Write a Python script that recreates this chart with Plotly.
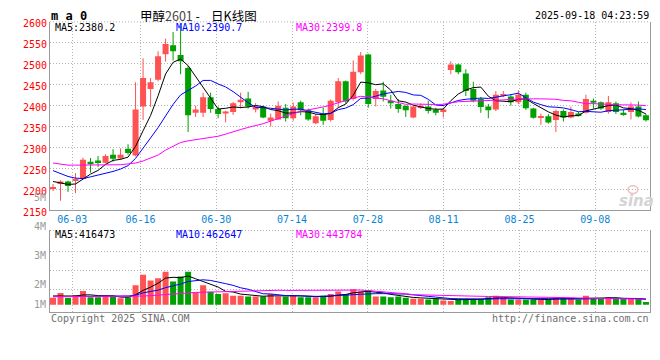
import plotly.graph_objects as go

# ---------------- data ----------------
dates = ["05-28", "05-29", "05-30",
         "06-03", "06-04", "06-05", "06-06", "06-09", "06-10", "06-11", "06-12", "06-13",
         "06-16", "06-17", "06-18", "06-19", "06-20", "06-23", "06-24", "06-25", "06-26", "06-27", "06-30",
         "07-01", "07-02", "07-03", "07-04", "07-07", "07-08", "07-09", "07-10", "07-11", "07-14",
         "07-15", "07-16", "07-17", "07-18", "07-21", "07-22", "07-23", "07-24", "07-25", "07-28",
         "07-29", "07-30", "07-31",
         "08-01", "08-04", "08-05", "08-06", "08-07", "08-08", "08-11", "08-12", "08-13", "08-14",
         "08-15", "08-18", "08-19", "08-20", "08-21", "08-22", "08-25", "08-26", "08-27", "08-28", "08-29",
         "09-01", "09-02", "09-03", "09-04", "09-05", "09-08", "09-09", "09-10", "09-11", "09-12",
         "09-15", "09-16", "09-17"]

opens = [2203, 2215, 2219, 2220, 2225, 2266, 2269, 2264, 2283, 2274,
         2297, 2281, 2398, 2440, 2462, 2523, 2544, 2521, 2490, 2383,
         2383, 2420, 2392, 2381, 2385, 2408, 2417, 2391, 2398, 2364,
         2367, 2395, 2370, 2408, 2389, 2358, 2380, 2366, 2408, 2458,
         2416, 2480, 2522, 2416, 2436, 2412, 2404, 2400, 2372, 2397,
         2398, 2390, 2385, 2485, 2498, 2477, 2440, 2416, 2398, 2391,
         2425, 2422, 2408, 2426, 2393, 2372, 2375, 2366, 2387, 2372,
         2381, 2383, 2412, 2408, 2385, 2406, 2383, 2385, 2398, 2377]
highs = [2213, 2222, 2221, 2239, 2276, 2275, 2280, 2284, 2296, 2298,
         2308, 2456, 2513, 2466, 2530, 2560, 2576, 2590, 2495, 2400,
         2431, 2431, 2398, 2388, 2409, 2431, 2433, 2406, 2400, 2381,
         2410, 2404, 2408, 2412, 2393, 2380, 2395, 2415, 2466, 2460,
         2508, 2528, 2524, 2440, 2457, 2426, 2416, 2400, 2400, 2405,
         2412, 2395, 2395, 2506, 2500, 2487, 2457, 2421, 2404, 2435,
         2435, 2426, 2437, 2431, 2395, 2381, 2380, 2391, 2391, 2398,
         2385, 2426, 2417, 2410, 2423, 2410, 2390, 2408, 2410, 2380]
lows = [2196, 2173, 2194, 2191, 2224, 2240, 2254, 2262, 2266, 2271,
        2283, 2279, 2366, 2397, 2458, 2505, 2508, 2475, 2337, 2373,
        2373, 2383, 2370, 2360, 2378, 2393, 2393, 2384, 2370, 2350,
        2366, 2362, 2364, 2377, 2364, 2356, 2354, 2362, 2397, 2405,
        2412, 2475, 2395, 2398, 2410, 2393, 2383, 2373, 2370, 2392,
        2381, 2377, 2372, 2475, 2475, 2423, 2408, 2383, 2370, 2387,
        2420, 2400, 2404, 2390, 2369, 2354, 2357, 2337, 2362, 2370,
        2374, 2381, 2393, 2390, 2381, 2380, 2376, 2367, 2372, 2362]
closes = [2205, 2219, 2208, 2225, 2271, 2260, 2263, 2280, 2273, 2283,
          2287, 2391, 2466, 2456, 2518, 2547, 2530, 2506, 2377, 2391,
          2420, 2392, 2380, 2386, 2406, 2414, 2398, 2398, 2372, 2372,
          2400, 2370, 2398, 2389, 2367, 2375, 2364, 2412, 2458, 2410,
          2481, 2520, 2404, 2435, 2421, 2406, 2392, 2389, 2398, 2400,
          2387, 2383, 2391, 2498, 2480, 2435, 2412, 2397, 2389, 2426,
          2427, 2408, 2426, 2394, 2371, 2375, 2360, 2387, 2372, 2385,
          2377, 2416, 2407, 2393, 2408, 2385, 2380, 2398, 2374, 2365]

ma5 = [2219, 2215, 2212, 2213, 2225.6, 2236.6, 2245.4, 2259.8, 2269.4, 2271.8,
       2277.2, 2302.8, 2340, 2376.6, 2423.6, 2475.6, 2503.4, 2511.4, 2495.6, 2470.2,
       2444.8, 2417.2, 2392, 2393.8, 2396.8, 2395.6, 2396.8, 2400.4, 2397.6, 2390.8,
       2388, 2382.4, 2382.4, 2385.8, 2384.8, 2379.8, 2378.6, 2381.4, 2395.2, 2403.8,
       2425, 2456.2, 2454.6, 2450, 2452.2, 2437.2, 2411.6, 2408.6, 2401.2, 2397,
       2393.2, 2391.4, 2391.8, 2411.8, 2427.8, 2437.4, 2443.2, 2444.4, 2422.6, 2411.8,
       2410.2, 2409.4, 2415.2, 2416.2, 2405.2, 2394.8, 2385.2, 2377.4, 2373, 2375.8,
       2376.2, 2387.4, 2391.4, 2395.6, 2400.2, 2401.8, 2394.6, 2392.8, 2389, 2380.2]
ma10 = [2245, 2238, 2231, 2227, 2226, 2230, 2234, 2238, 2243, 2248.7,
        2256.9, 2274.1, 2299.9, 2323, 2347.7, 2376.4, 2403.1, 2425.7, 2436.1, 2446.9,
        2460.2, 2460.3, 2451.7, 2444.7, 2433.5, 2420.2, 2407, 2396.2, 2395.7, 2393.8,
        2391.8, 2389.6, 2391.4, 2391.7, 2387.8, 2383.9, 2380.5, 2381.9, 2390.5, 2394.3,
        2402.4, 2417.4, 2418, 2422.6, 2428, 2431.1, 2433.9, 2431.6, 2425.6, 2424.6,
        2415.2, 2401.5, 2400.2, 2406.5, 2412.4, 2415.3, 2417.3, 2418.1, 2417.2, 2419.8,
        2423.8, 2426.3, 2429.8, 2419.4, 2408.5, 2402.5, 2397.3, 2396.3, 2394.6, 2390.5,
        2385.5, 2386.3, 2384.4, 2384.3, 2388, 2388.9, 2391, 2392.1, 2392.3, 2390.7]
ma30 = [2263, 2260, 2258, 2258, 2258, 2258, 2258, 2258, 2258, 2259,
        2261, 2263, 2268, 2275, 2282, 2294, 2303, 2312, 2316, 2319,
        2321, 2324, 2327, 2332, 2338, 2343, 2348, 2352, 2357, 2363.1,
        2369.6, 2374.7, 2381, 2386.5, 2389.7, 2393.5, 2396.9, 2401.3, 2407.4, 2411.7,
        2418.1, 2422.4, 2420.4, 2419.7, 2416.4, 2411.7, 2407.1, 2403.2, 2403.9, 2404.2,
        2403.1, 2402.8, 2403.2, 2406.9, 2409.4, 2410.1, 2410.6, 2410.5, 2411.1, 2412.9,
        2413.8, 2415.1, 2416, 2416.2, 2416.3, 2416.3, 2416.2, 2415.3, 2412.5, 2411.6,
        2408.2, 2404.7, 2404.8, 2403.4, 2403, 2402.3, 2401.9, 2402.2, 2401.4, 2399.8]

volumes = [550000, 943000, 550000, 786000, 1100000, 605000, 605000, 652000, 652000, 527000,
           605000, 1572000, 2437000, 1965000, 2146000, 2672000, 1886000, 2279000, 2672000, 998000,
           1572000, 1045000, 865000, 920000, 731000, 731000, 652000, 652000, 652000, 865000,
           652000, 652000, 786000, 605000, 605000, 605000, 731000, 865000, 1077000, 865000,
           1258000, 1077000, 1179000, 652000, 652000, 605000, 652000, 550000, 472000, 472000,
           417000, 472000, 338000, 300000, 472000, 472000, 472000, 472000, 605000, 731000,
           550000, 417000, 417000, 417000, 417000, 417000, 417000, 605000, 495000, 495000,
           417000, 731000, 495000, 495000, 605000, 480000, 450000, 470000, 460000, 220000]
vol_ma5 = [707000, 707000, 700000, 700000, 786000, 797000, 729000, 750000, 723000, 608000,
           608000, 802000, 1159000, 1421000, 1745000, 2158000, 2221000, 2190000, 2331000, 2101000,
           1881000, 1713000, 1430000, 1080000, 1027000, 858000, 780000, 737000, 684000, 710000,
           695000, 695000, 721000, 712000, 660000, 651000, 666000, 682000, 777000, 829000,
           959000, 1028000, 1091000, 1006000, 964000, 833000, 748000, 622000, 586000, 550000,
           513000, 477000, 434000, 400000, 400000, 411000, 411000, 438000, 499000, 550000,
           566000, 555000, 544000, 506000, 444000, 417000, 417000, 455000, 470000, 486000,
           486000, 549000, 527000, 527000, 549000, 561000, 505000, 500000, 493000, 416473]
vol_ma10 = [650000, 650000, 650000, 650000, 660000, 670000, 680000, 690000, 695000, 697000,
            703000, 765000, 954000, 1072000, 1177000, 1383000, 1511000, 1674000, 1876000, 1923000,
            2020000, 1967000, 1810000, 1706000, 1564000, 1370000, 1247000, 1084000, 882000, 869000,
            777000, 737000, 729000, 698000, 685000, 673000, 681000, 702000, 744000, 744000,
            805000, 847000, 887000, 891000, 896000, 896000, 888000, 857000, 796000, 757000,
            673000, 612000, 528000, 493000, 475000, 462000, 444000, 436000, 449000, 475000,
            488000, 483000, 491000, 503000, 497000, 492000, 486000, 499000, 488000, 465000,
            451000, 483000, 491000, 498000, 517000, 524000, 527000, 513000, 500000, 462647]
vol_ma30 = [650000, 650000, 650000, 650000, 650000, 650000, 650000, 650000, 650000, 650000,
            650000, 660000, 700000, 730000, 780000, 850000, 880000, 920000, 960000, 990000,
            1010000, 1030000, 1050000, 1080000, 1100000, 1120000, 1130000, 1140000, 1150000, 1163000,
            1166000, 1157000, 1164000, 1158000, 1142000, 1142000, 1146000, 1153000, 1167000, 1179000,
            1200000, 1184000, 1142000, 1098000, 1048000, 980000, 938000, 881000, 807000, 790000,
            751000, 732000, 715000, 694000, 685000, 677000, 671000, 665000, 663000, 659000,
            655000, 648000, 635000, 629000, 623000, 616000, 606000, 597000, 578000, 566000,
            538000, 526000, 503000, 498000, 496000, 492000, 486000, 483000, 470000, 443784]

x_tick_labels = ["06-03", "06-16", "06-30", "07-14", "07-28", "08-11", "08-25", "09-08"]
price_ticks = [2150, 2200, 2250, 2300, 2350, 2400, 2450, 2500, 2550, 2600]
vol_tick_labels = ["5M", "4M", "3M", "2M", "1M"]
vol_grid_values = [1234000, 2806000, 4347000]

price_legend = ["MA5:2380.2", "MA10:2390.7", "MA30:2399.8"]
vol_legend = ["MA5:416473", "MA10:462647", "MA30:443784"]
title_name = "甲醇"
title_code = "2601"
title_rest = "&nbsp;-&nbsp;&nbsp;&nbsp;&nbsp;日K线图"
symbol_text = "m a 0"
timestamp = "2025-09-18 04:23:59"
footer_left = "Copyright 2025 SINA.COM"
footer_right = "http://finance.sina.com.cn"

# ---------------- style ----------------
W, H = 660, 360
def fx(p):
    return p / W
def fy(p):
    return 1 - p / H

RED = "#ff5252"
GREEN = "#00a000"
MA_COLORS = ["#000000", "#0000ff", "#ff00ff"]
GRID = "#b4b4b4"
AXIS = "#9a9a9a"
MONO = "DejaVu Sans Mono"
DOT = "1px,2px"
GRID_SCALE, GRID_SHIFT = 1.0098, -0.46   # date gridlines are spaced slightly wider than candles

xs = list(range(len(dates)))
up = [c >= o for o, c in zip(opens, closes)]
colors = [RED if u else GREEN for u in up]
body_base = [min(o, c) for o, c in zip(opens, closes)]
body_h = [max(abs(c - o), 1.3) for o, c in zip(opens, closes)]
tick_pos = [dates.index(d) * GRID_SCALE + GRID_SHIFT for d in x_tick_labels]

fig = go.Figure()

# wicks
for flag, col in ((True, RED), (False, GREEN)):
    wx, wy = [], []
    for i in xs:
        if up[i] == flag:
            wx += [i, i, None]
            wy += [lows[i], highs[i], None]
    fig.add_trace(go.Scatter(x=wx, y=wy, mode="lines", line=dict(color=col, width=1),
                             hoverinfo="skip", xaxis="x", yaxis="y"))

# bodies
fig.add_trace(go.Bar(x=xs, y=body_h, base=body_base, width=0.8,
                     marker=dict(color=colors, line=dict(width=0)),
                     hoverinfo="skip", xaxis="x", yaxis="y"))

# price MAs
for series, col in zip((ma5, ma10, ma30), MA_COLORS):
    fig.add_trace(go.Scatter(x=xs, y=series, mode="lines", line=dict(color=col, width=1),
                             hoverinfo="skip", xaxis="x", yaxis="y"))

# volume
fig.add_trace(go.Bar(x=xs, y=volumes, width=0.8,
                     marker=dict(color=colors, line=dict(width=0)),
                     hoverinfo="skip", xaxis="x2", yaxis="y2"))
for series, col in zip((vol_ma5, vol_ma10, vol_ma30), MA_COLORS):
    fig.add_trace(go.Scatter(x=xs, y=series, mode="lines", line=dict(color=col, width=1),
                             hoverinfo="skip", xaxis="x2", yaxis="y2"))

xrange_ = [-0.4, 79.54]
common_x = dict(domain=[fx(50), fx(650)], range=xrange_, tickmode="array", tickvals=tick_pos,
                showgrid=True, gridcolor=GRID, griddash=DOT, gridwidth=1,
                showline=True, linecolor=AXIS, linewidth=1, ticks="", zeroline=False,
                fixedrange=True)

annotations = []
def txt(x, y, text, color="#000", size=10, family=MONO, xanchor="left"):
    annotations.append(dict(x=fx(x), y=fy(y), xref="paper", yref="paper", text=text,
                            showarrow=False, xanchor=xanchor, yanchor="middle",
                            font=dict(family=family, size=size, color=color),
                            borderpad=0))

txt(50, 12, "<b>" + symbol_text + "</b>", size=12)
txt(139, 12, title_name + "<span style='color:#444'>" + title_code + "</span>" + title_rest,
    size=12.5, family="Noto Sans CJK SC")
txt(650, 12, timestamp, xanchor="right")
for label, xpos, col in zip(price_legend, (54, 175, 295), MA_COLORS):
    txt(xpos, 24, label, color=col)
for label, xpos, col in zip(vol_legend, (54, 175, 295), MA_COLORS):
    txt(xpos, 238.5, label, color=col)
for label, ypos in zip(vol_tick_labels, (200.5, 230.5, 260.5, 290.5, 311)):
    txt(46.5, ypos, label, color="#9a9a9a", xanchor="right")
txt(50, 325.5, footer_left, color="#707070")
txt(650, 325.5, footer_right, color="#707070", xanchor="right")
txt(636, 204, "<b><i>sina</i></b>", color="#d4d4d4", size=15, family="DejaVu Sans",
    xanchor="center")

shapes = [
    dict(type="line", xref="paper", yref="paper", x0=fx(50), x1=fx(650), y0=fy(18.5), y1=fy(18.5),
         line=dict(color=GRID, width=1, dash=DOT)),
    dict(type="line", xref="paper", yref="paper", x0=fx(50), x1=fx(650), y0=fy(234.3), y1=fy(234.3),
         line=dict(color=GRID, width=1, dash=DOT)),
    dict(type="circle", xref="paper", yref="paper", x0=fx(628), x1=fx(638), y0=fy(196), y1=fy(188),
         line=dict(color="#f0c0c0", width=1.5), fillcolor="rgba(0,0,0,0)"),
]

fig.update_layout(
    width=W, height=H, margin=dict(l=0, r=0, t=0, b=0),
    paper_bgcolor="white", plot_bgcolor="white", showlegend=False, barmode="overlay",
    xaxis=dict(common_x, anchor="y", ticktext=x_tick_labels,
               tickfont=dict(family=MONO, size=10, color="#0a84d4")),
    xaxis2=dict(common_x, anchor="y2", matches="x", showticklabels=False),
    yaxis=dict(domain=[fy(213.5), fy(18.5)], range=[2150, 2600], tickmode="array",
               tickvals=price_ticks, ticktext=[str(v) for v in price_ticks],
               showgrid=True, gridcolor=GRID, griddash=DOT, gridwidth=1,
               showline=True, mirror=True, linecolor=AXIS, linewidth=1, ticks="",
               zeroline=False, fixedrange=True, ticklabelshift=2,
               tickfont=dict(family=MONO, size=10, color="#ff0000")),
    yaxis2=dict(domain=[fy(318.3), fy(234.3)], range=[-574000, 6028000], tickmode="array",
                tickvals=vol_grid_values, showticklabels=False,
                showgrid=True, gridcolor=GRID, griddash=DOT, gridwidth=1,
                showline=True, mirror=True, linecolor=AXIS, linewidth=1, ticks="",
                zeroline=False, fixedrange=True),
    annotations=annotations, shapes=shapes,
)

fig.write_html("out.html", config={"displayModeBar": False},
               post_script="document.body.style.margin='0';document.body.style.overflow='hidden';")
